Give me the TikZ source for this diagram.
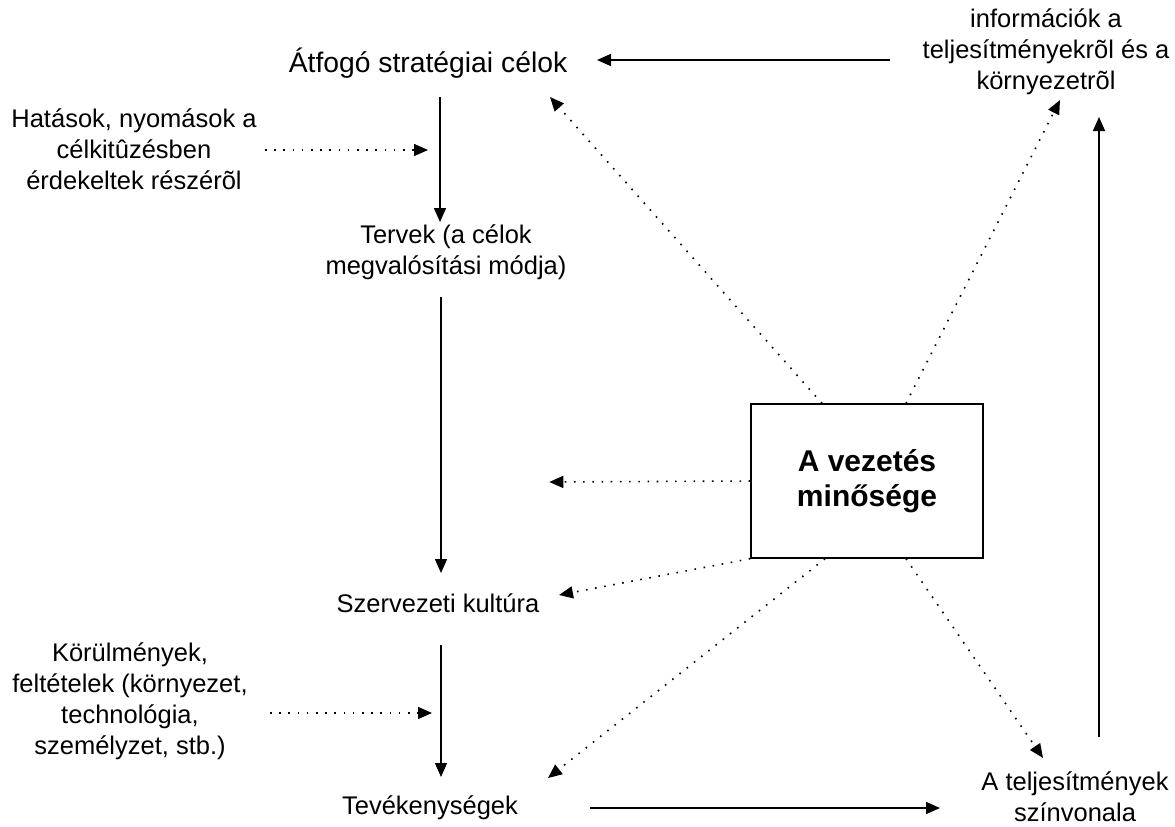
\documentclass[tikz,border=0pt]{standalone}
\usepackage{fontspec}
\setmainfont{Liberation Sans}
\usetikzlibrary{arrows.meta,calc}
\begin{document}
\begin{tikzpicture}[x=1pt,y=-1pt,
  lbl/.style={font=\fontsize{25.5}{31}\selectfont, align=center, inner sep=0pt},
  hub/.style={draw, line width=1.4pt, minimum width=232pt, minimum height=154pt,
              inner sep=0pt, font=\fontsize{30}{35}\selectfont\bfseries, align=center},
  flow/.style={line width=1.5pt, -{Triangle[length=14pt,width=12pt]}},
  infl/.style={line width=1.6pt, dash pattern=on 1.6pt off 7.6pt,
               -{Triangle[length=14pt,width=12pt]}}]
\useasboundingbox (0,0) rectangle (1175,827);

% text nodes
\node[lbl, font=\fontsize{28.3}{33}\selectfont] (goals) at (428,63) {Átfogó stratégiai célok};
\node[lbl] (info)    at (1046,52)  {információk a\\teljesítményekrõl és a\\környezetrõl};
\node[lbl] (press)   at (134,149)  {Hatások, nyomások a\\célkitûzésben\\érdekeltek részérõl};
\node[lbl] (plans)   at (446,252)  {Tervek (a célok\\megvalósítási módja)};
\node[lbl] (culture) at (438,603)  {Szervezeti kultúra};
\node[lbl] (cond)    at (130,701)  {Körülmények,\\feltételek (környezet,\\technológia,\\személyzet, stb.)};
\node[lbl] (acts)    at (430,808)  {Tevékenységek};
\node[lbl] (perf)    at (1075,797) {A teljesítmények\\színvonala};

% central box
\node[hub] (box) at (867,481) {A vezetés\\minősége};

% free ends of the influence arrows that point at the main flow
\coordinate (pressTip) at ($(press)+(294,1)$);
\coordinate (condTip)  at ($(cond)+(302,12)$);
\coordinate (midTip)   at ($(box.west)+(-201,1)$);

% main flow
\draw[flow] ($(goals)+(12,34)$)   -- ($(plans)+(-6,-30)$);
\draw[flow] ($(plans)+(-5,45)$)   -- ($(culture)+(3,-30)$);
\draw[flow] ($(culture)+(3,42)$)  -- ($(acts)+(11,-31)$);
\draw[flow] ($(acts)+(160,0)$)    -- ($(perf)+(-135,11)$);
\draw[flow] ($(perf)+(24,-60)$)   -- ($(info)+(53,65)$);
\draw[flow] ($(info)+(-156,8)$)   -- ($(goals)+(169,-3)$);

% external influences
\draw[infl] ($(press)+(131,1)$) -- (pressTip);
\draw[infl] ($(cond)+(140,12)$) -- (condTip);

% influence of management quality
\draw[infl] ([xshift=-45pt]box.north) -- ($(goals)+(122,34)$);
\draw[infl] ([xshift=39pt]box.north)  -- ($(info)+(14,48)$);
\draw[infl] (box.west)                -- (midTip);
\draw[infl] (box.south west)          -- ($(culture)+(121,-8)$);
\draw[infl] ([xshift=-42pt]box.south) -- ($(acts)+(118,-30)$);
\draw[infl] ([xshift=39pt]box.south)  -- ($(perf)+(-32,-39)$);
\end{tikzpicture}
\end{document}
